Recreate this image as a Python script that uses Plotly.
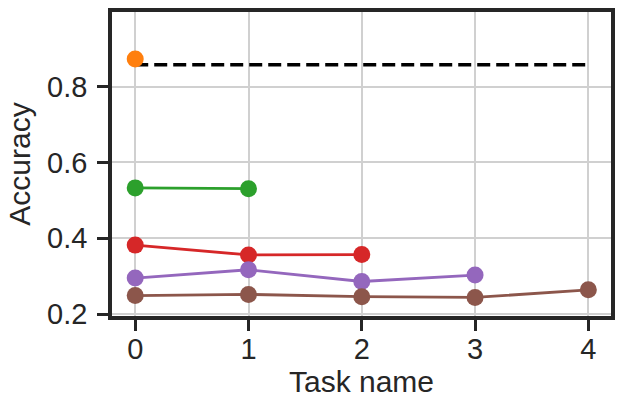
import plotly.graph_objects as go

# accuracy per task
tasks = [0, 1, 2, 3, 4]
acc_task0 = [0.873]
acc_task1 = [0.533, 0.531]
acc_task2 = [0.382, 0.356, 0.357]
acc_task3 = [0.295, 0.317, 0.286, 0.303]
acc_task4 = [0.249, 0.252, 0.246, 0.244, 0.264]
baseline = [0.858, 0.858]
baseline_x = [0, 4]

series = [
    (acc_task0, '#ff7f0e'),
    (acc_task1, '#2ca02c'),
    (acc_task2, '#d62728'),
    (acc_task3, '#9467bd'),
    (acc_task4, '#8c564b'),
]

fig = go.Figure()

# dashed reference line
fig.add_trace(go.Scatter(x=baseline_x, y=baseline, mode='lines',
    line=dict(color='black', width=3.5, dash='13px,6px'), showlegend=False))

for vals, col in series:
    fig.add_trace(go.Scatter(x=tasks[:len(vals)], y=vals, mode='lines+markers',
        line=dict(color=col, width=2.8),
        marker=dict(color=col, size=17),
        showlegend=False))

axis_style = dict(
    showline=True, linecolor='#262626', linewidth=3.5, mirror=True,
    ticks='outside', ticklen=11, tickwidth=2.5, tickcolor='#262626',
    showgrid=True, gridcolor='#d0d0d0', gridwidth=2,
    zeroline=False, automargin=False,
    tickfont=dict(size=29, color='#262626'),
)

fig.update_layout(
    width=630, height=413,
    plot_bgcolor='white', paper_bgcolor='white',
    font=dict(family='Liberation Sans, Arial, sans-serif', color='#262626'),
    margin=dict(l=112, r=19, t=12, b=97),
    xaxis=dict(axis_style, range=[-0.205, 4.2], tickvals=tasks, ticklabelstandoff=-7,
               title=dict(text='Task name', font=dict(size=30), standoff=8)),
    yaxis=dict(axis_style, range=[0.195, 0.997], tickvals=[0.2, 0.4, 0.6, 0.8],
               ticktext=['0.2', '0.4', '0.6', '0.8'], ticklabelstandoff=4,
               title=dict(text='Accuracy', font=dict(size=30), standoff=9)),
)

# drop the browser's default page margin so the figure sits at (0, 0)
fig.write_html("out.html", config={'displayModeBar': False},
               post_script="document.body.style.margin='0';")
